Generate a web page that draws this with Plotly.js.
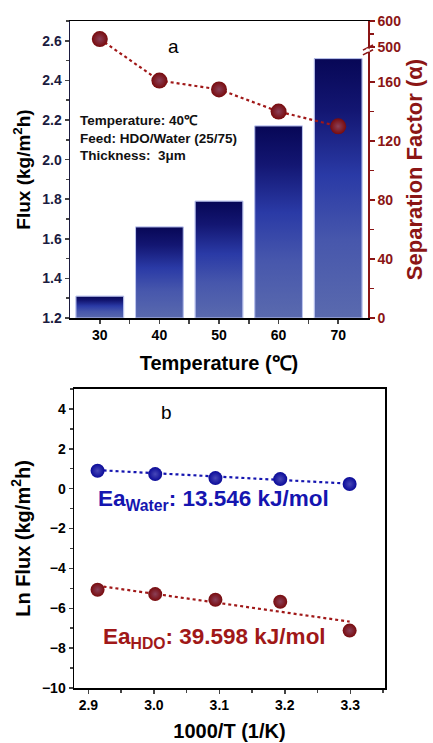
<!DOCTYPE html>
<html><head><meta charset="utf-8">
<script src="https://cdn.plot.ly/plotly-3.0.1.min.js"></script>
<style>html,body{margin:0;padding:0;background:#fff}#chart{width:433px;height:743px}</style>
</head><body><div id="chart"></div>
<script>
// ---- data: panel a ----
const temperatures = [30, 40, 50, 60, 70];
const fluxValues = [1.31, 1.66, 1.79, 2.17, 2.51];
const separationFactor = [531, 161, 155, 140, 130];
const sfTickValues = [0, 40, 80, 120, 160, 500, 600];
const sfTickLabels = ['0', '40', '80', '120', '160', '500', '600'];
const sfMinorValues = [20, 60, 100, 140, 550];
// ---- data: panel b ----
const invTemp = [2.914, 3.002, 3.094, 3.193, 3.299];
const lnFluxWater = [0.90, 0.73, 0.53, 0.48, 0.23];
const lnFluxHDO = [-5.07, -5.29, -5.57, -5.67, -7.12];
const fitX = [2.914, 3.299];
const fitWater = [0.93, 0.25];
const fitHDO = [-4.87, -6.67];

// broken right axis: lower segment 0-182 linear, upper segment 490-600 compressed
function brk(v) { return v <= 182 ? v : 183.7 + (v - 500) * 0.176; }

const FONT = 'Arial, "Liberation Sans", sans-serif';
const NAVY = '#1b1b40';
const RED = '#8b1515';
const BASE = 1.2, BW = 8;

const traces = [];
traces.push({
  type: 'bar', x: temperatures, y: fluxValues.map(f => f - BASE), base: BASE,
  width: BW, marker: {color: '#2a3aa0', line: {color: '#c0c8f0', width: 1}},
  xaxis: 'x', yaxis: 'y', hoverinfo: 'x+y', showlegend: false
});
// gradient overlay for each bar, built from the same data
temperatures.forEach((t, i) => {
  traces.push({
    type: 'scatter', mode: 'lines',
    x: [t - BW / 2, t + BW / 2, t + BW / 2, t - BW / 2, t - BW / 2],
    y: [BASE, BASE, fluxValues[i], fluxValues[i], BASE],
    fill: 'toself',
    fillgradient: {type: 'vertical', colorscale: [[0, '#5a6aae'], [0.3, '#4757ac'], [0.55, '#2a3aa6'], [0.8, '#131672'], [1, '#070756']]},
    line: {color: '#c0c8f0', width: 1},
    xaxis: 'x', yaxis: 'y', hoverinfo: 'skip', showlegend: false
  });
});
traces.push({
  type: 'scatter', mode: 'lines+markers', x: temperatures, y: separationFactor.map(brk),
  text: separationFactor.map(String), hovertemplate: '%{x}: %{text}<extra></extra>',
  line: {color: '#a01818', width: 2.2, dash: 'dot'},
  marker: {size: 16, color: '#780a0c', gradient: {type: 'radial', color: '#8a4058'}},
  xaxis: 'x', yaxis: 'y2', showlegend: false
});
// panel b
traces.push({type: 'scatter', mode: 'lines', x: fitX, y: fitWater, line: {color: '#1515b0', width: 2.2, dash: 'dot'}, xaxis: 'x3', yaxis: 'y3', showlegend: false, hoverinfo: 'skip'});
traces.push({type: 'scatter', mode: 'lines', x: fitX, y: fitHDO, line: {color: '#a01818', width: 2.2, dash: 'dot'}, xaxis: 'x3', yaxis: 'y3', showlegend: false, hoverinfo: 'skip'});
traces.push({type: 'scatter', mode: 'markers', x: invTemp, y: lnFluxWater, marker: {size: 14, color: '#0a0a98', gradient: {type: 'radial', color: '#4848b8'}}, xaxis: 'x3', yaxis: 'y3', showlegend: false});
traces.push({type: 'scatter', mode: 'markers', x: invTemp, y: lnFluxHDO, marker: {size: 14, color: '#780a0c', gradient: {type: 'radial', color: '#8a4058'}}, xaxis: 'x3', yaxis: 'y3', showlegend: false});

const tickBold = (c, s) => ({family: FONT, size: s || 14, color: c, weight: 'bold'});

const layout = {
  width: 433, height: 743,
  margin: {l: 70, r: 48, t: 21, b: 55},
  paper_bgcolor: '#fff', plot_bgcolor: '#fff',
  showlegend: false,
  font: {family: FONT},
  xaxis: {
    domain: [0, 0.946], anchor: 'y', range: [25, 75],
    tickvals: temperatures, ticks: 'outside', ticklen: 4, tickwidth: 1.5,
    minor: {tickvals: [35, 45, 55, 65], ticks: 'outside', ticklen: 4, tickwidth: 1.5},
    showline: true, linecolor: '#000', linewidth: 1.5, mirror: true,
    showgrid: false, zeroline: false,
    tickfont: tickBold('#000', 14),
    title: {text: 'Temperature (℃)', font: tickBold('#000', 20), standoff: 13}
  },
  yaxis: {
    domain: [0.5547, 1], anchor: 'x', range: [1.2, 2.7],
    tickvals: [1.2, 1.4, 1.6, 1.8, 2.0, 2.2, 2.4, 2.6], ticktext: ['1.2', '1.4', '1.6', '1.8', '2.0', '2.2', '2.4', '2.6'],
    ticks: 'outside', ticklen: 4, tickwidth: 1.5,
    minor: {dtick: 0.1, ticks: 'outside', ticklen: 3, tickwidth: 1.5},
    showline: true, linecolor: NAVY, linewidth: 1.5,
    showgrid: false, zeroline: false,
    tickfont: tickBold(NAVY, 14),
    title: {text: 'Flux (kg/m<sup>2</sup>h)', font: tickBold('#000', 19), standoff: 6}
  },
  yaxis2: {
    overlaying: 'y', side: 'right', anchor: 'x', range: [0, 201.4],
    tickvals: sfTickValues.map(brk), ticktext: sfTickLabels,
    ticks: 'outside', ticklen: 5, tickwidth: 1.5, tickcolor: RED,
    minor: {tickvals: sfMinorValues.map(brk), ticks: 'outside', ticklen: 4, tickwidth: 1.5, tickcolor: RED},
    showline: true, linecolor: RED, linewidth: 1.8,
    showgrid: false, zeroline: false,
    tickfont: tickBold(RED, 14),
    title: {text: 'Separation Factor (α)', font: tickBold(RED, 22), standoff: 6}
  },
  xaxis3: {
    domain: [0.0127, 1], anchor: 'y3', range: [2.878, 3.353],
    tickvals: [2.9, 3.0, 3.1, 3.2, 3.3], ticktext: ['2.9', '3.0', '3.1', '3.2', '3.3'],
    ticks: 'outside', ticklen: 4, tickwidth: 1.5,
    minor: {dtick: 0.05, tick0: 2.85, ticks: 'outside', ticklen: 3, tickwidth: 1.5},
    showline: true, linecolor: '#000', linewidth: 1.5, mirror: true,
    showgrid: false, zeroline: false,
    tickfont: tickBold('#000', 14),
    title: {text: '1000/T (1/K)', font: tickBold('#000', 20), standoff: 11}
  },
  yaxis3: {
    domain: [0, 0.4483], anchor: 'x3', range: [-10, 5],
    tickvals: [-10, -8, -6, -4, -2, 0, 2, 4],
    ticks: 'outside', ticklen: 4, tickwidth: 1.5,
    minor: {dtick: 1, ticks: 'outside', ticklen: 3, tickwidth: 1.5},
    showline: true, linecolor: '#000', linewidth: 1.5, mirror: true,
    showgrid: false, zeroline: false,
    tickfont: tickBold('#000', 14),
    title: {text: 'Ln Flux (kg/m<sup>2</sup>h)', font: tickBold('#000', 20), standoff: 6}
  },
  annotations: [
    {xref: 'x', yref: 'y', x: 42.3, y: 2.57, text: 'a', showarrow: false, font: {family: FONT, size: 19, color: '#000'}},
    {xref: 'x', yref: 'y', x: 26.3, y: 2.11, xanchor: 'left', align: 'left', showarrow: false,
     text: 'Temperature: 40℃<br>Feed: HDO/Water (25/75)<br>Thickness:  3μm', font: {family: FONT, size: 13.5, color: '#111', weight: 'bold'}},
    {xref: 'x3', yref: 'y3', x: 3.02, y: 3.8, text: 'b', showarrow: false, font: {family: FONT, size: 19, color: '#000'}},
    {xref: 'x3', yref: 'y3', x: 2.911, y: -0.57, xanchor: 'left', showarrow: false,
     text: 'Ea<sub>Water</sub>: 13.546 kJ/mol', font: {family: FONT, size: 22.5, color: '#1515b0', weight: 'bold'}},
    {xref: 'x3', yref: 'y3', x: 2.919, y: -7.49, xanchor: 'left', showarrow: false,
     text: 'Ea<sub>HDO</sub>: 39.598 kJ/mol', font: {family: FONT, size: 22.5, color: '#a01818', weight: 'bold'}}
  ],
  shapes: [
    // axis break marks on the right axis
    {type: 'line', xref: 'x domain', yref: 'y domain', x0: 0.983, x1: 1.017, y0: 0.886, y1: 0.903, line: {color: RED, width: 1.6}},
    {type: 'line', xref: 'x domain', yref: 'y domain', x0: 0.983, x1: 1.017, y0: 0.902, y1: 0.919, line: {color: RED, width: 1.6}},
    {type: 'rect', xref: 'x domain', yref: 'y domain', x0: 0.994, x1: 1.006, y0: 0.897, y1: 0.907, fillcolor: '#fff', line: {width: 0}, layer: 'above'}
  ]
};

Plotly.newPlot('chart', traces, layout, {displayModeBar: false, staticPlot: true});
</script></body></html>
